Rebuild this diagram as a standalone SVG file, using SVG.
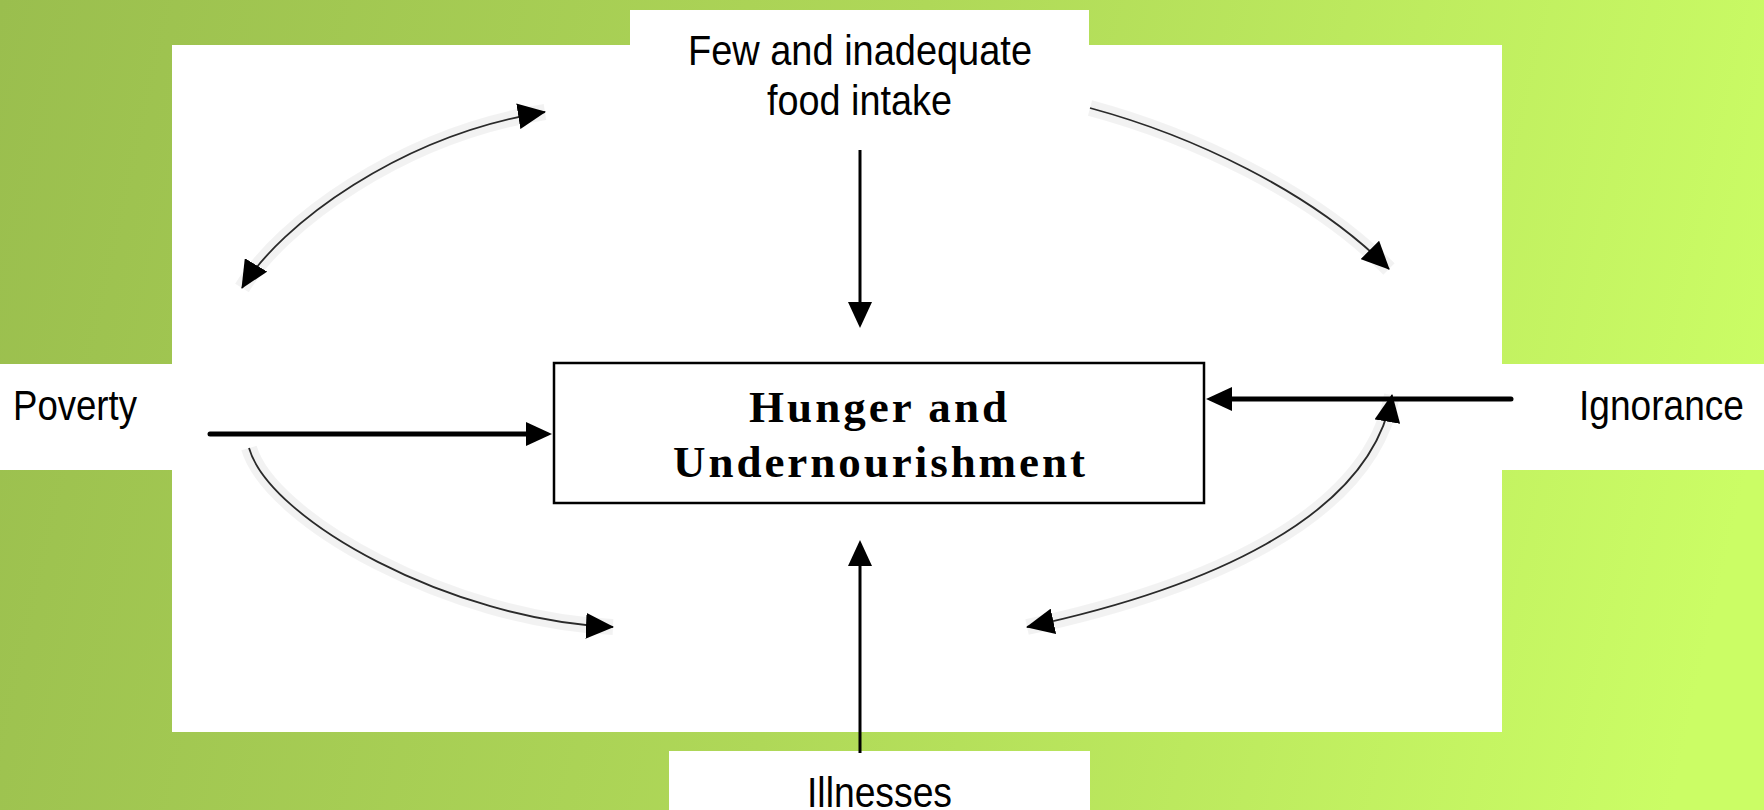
<svg xmlns="http://www.w3.org/2000/svg" width="1764" height="810" viewBox="0 0 1764 810">
  <defs>
    <linearGradient id="bg" gradientUnits="userSpaceOnUse" x1="0" y1="0" x2="1764" y2="400">
      <stop offset="0" stop-color="#9abe4e"/>
      <stop offset="0.5" stop-color="#afd858"/>
      <stop offset="1" stop-color="#cbfd65"/>
    </linearGradient>
    <marker id="ah" viewBox="0 0 26 24" markerWidth="26" markerHeight="24" refX="2" refY="12" orient="auto-start-reverse" markerUnits="userSpaceOnUse">
      <path d="M0,0 L26,12 L0,24 Z" fill="#000"/>
    </marker>
    <marker id="ahc" viewBox="0 0 28 26" markerWidth="28" markerHeight="26" refX="27" refY="13" orient="auto-start-reverse" markerUnits="userSpaceOnUse">
      <path d="M0,0 L28,13 L0,26 Z" fill="#000"/>
    </marker>
  </defs>
  <style>
    .lbl { font-family: "Liberation Sans", Arial, sans-serif; font-size: 43px; fill: #000; }
    .main { font-family: "Liberation Serif", "Times New Roman", serif; font-size: 45px; font-weight: bold; fill: #000; }
    .pane { fill: #fff; }
    .thick { stroke: #000; stroke-width: 5; fill: none; stroke-linecap: round; }
    .thin { stroke: #000; stroke-width: 3; fill: none; }
    .halo { stroke: #000; stroke-opacity: 0.05; stroke-width: 16; fill: none; }
    .curve { stroke: #2a2a2a; stroke-width: 1.8; fill: none; }
  </style>

  <rect x="0" y="0" width="1764" height="810" fill="url(#bg)"/>
  <rect class="pane" x="172" y="45" width="1330" height="687"/>

  <g id="node-food">
    <rect class="pane" x="630" y="10" width="459" height="40"/>
    <text class="lbl" x="688" y="65" textLength="344" lengthAdjust="spacingAndGlyphs">Few and inadequate</text>
    <text class="lbl" x="767" y="115" textLength="185" lengthAdjust="spacingAndGlyphs">food intake</text>
  </g>

  <g id="node-poverty">
    <rect class="pane" x="0" y="364" width="175" height="106"/>
    <text class="lbl" x="13" y="420" textLength="124" lengthAdjust="spacingAndGlyphs">Poverty</text>
  </g>

  <g id="node-ignorance">
    <rect class="pane" x="1500" y="364" width="264" height="106"/>
    <text class="lbl" x="1579" y="420" textLength="165" lengthAdjust="spacingAndGlyphs">Ignorance</text>
  </g>

  <g id="node-illnesses">
    <rect class="pane" x="669" y="751" width="421" height="59"/>
    <text class="lbl" x="807" y="807" textLength="145" lengthAdjust="spacingAndGlyphs">Illnesses</text>
  </g>

  <g id="node-hunger">
    <rect x="554" y="363" width="650" height="140" fill="#fff" stroke="#000" stroke-width="2.5"/>
    <text class="main" x="749" y="422" textLength="258" lengthAdjust="spacing">Hunger and</text>
    <text class="main" x="673" y="477" textLength="412" lengthAdjust="spacing">Undernourishment</text>
  </g>

  <g id="connectors">
    <path class="halo" d="M242,288 C280,225 400,135 545,112"/>
    <path class="halo" d="M1090,108 C1190,135 1310,190 1389,269"/>
    <path class="halo" d="M249,448 C270,520 450,620 613,627"/>
    <path class="halo" d="M1027,627 C1200,590 1370,520 1392,395"/>

    <path class="curve" d="M242,288 C280,225 400,135 545,112" marker-start="url(#ahc)" marker-end="url(#ahc)"/>
    <path class="curve" d="M1090,108 C1190,135 1310,190 1389,269" marker-end="url(#ahc)"/>
    <path class="curve" d="M249,448 C270,520 450,620 613,627" marker-end="url(#ahc)"/>
    <path class="curve" d="M1027,627 C1200,590 1370,520 1392,395" marker-start="url(#ahc)" marker-end="url(#ahc)"/>

    <path class="thin" d="M860,150 V304" marker-end="url(#ah)"/>
    <path class="thin" d="M860,753 V564" marker-end="url(#ah)"/>
    <path class="thick" d="M210,434 H528" marker-end="url(#ah)"/>
    <path class="thick" d="M1511,399 H1230" marker-end="url(#ah)"/>
  </g>
</svg>
